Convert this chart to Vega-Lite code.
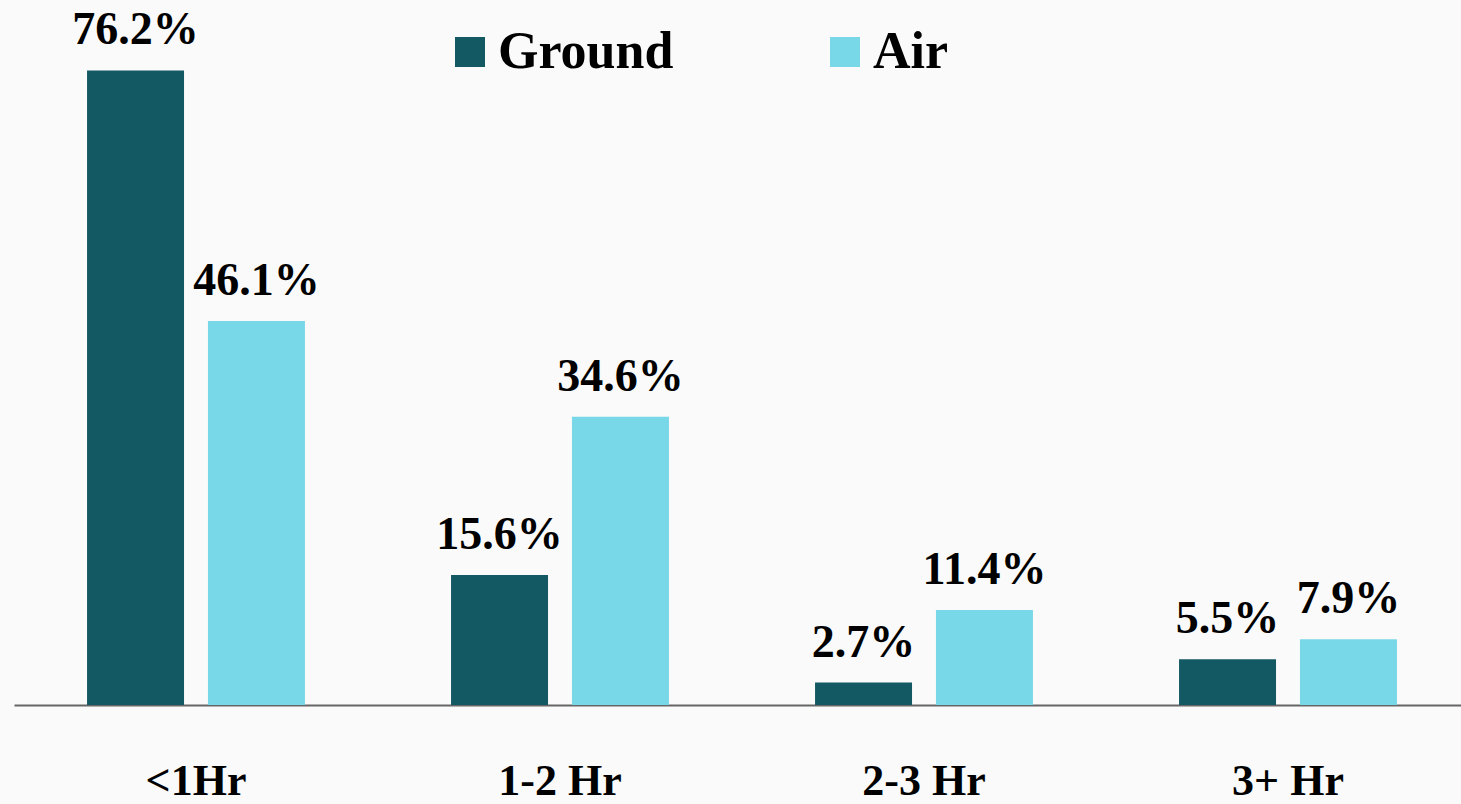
{
  "$schema": "https://vega.github.io/schema/vega-lite/v6.json",
  "width": 1447,
  "height": 705,
  "autosize": {"type": "none"},
  "padding": {"left": 14, "top": 0, "right": 0, "bottom": 99},
  "background": "#fafafa",
  "config": {"view": {"stroke": null}, "font": "Liberation Serif"},
  "data": {
    "values": [
      {"duration": "<1Hr", "mode": "Ground", "value": 76.2, "label": "76.2%"},
      {"duration": "<1Hr", "mode": "Air", "value": 46.1, "label": "46.1%"},
      {"duration": "1-2 Hr", "mode": "Ground", "value": 15.6, "label": "15.6%"},
      {"duration": "1-2 Hr", "mode": "Air", "value": 34.6, "label": "34.6%"},
      {"duration": "2-3 Hr", "mode": "Ground", "value": 2.7, "label": "2.7%"},
      {"duration": "2-3 Hr", "mode": "Air", "value": 11.4, "label": "11.4%"},
      {"duration": "3+ Hr", "mode": "Ground", "value": 5.5, "label": "5.5%"},
      {"duration": "3+ Hr", "mode": "Air", "value": 7.9, "label": "7.9%"}
    ]
  },
  "encoding": {
    "x": {
      "field": "duration",
      "type": "nominal",
      "sort": ["<1Hr", "1-2 Hr", "2-3 Hr", "3+ Hr"],
      "scale": {"paddingInner": 0, "paddingOuter": 0, "range": [0, 1456]},
      "axis": {
        "title": null,
        "labelAngle": 0,
        "labelFont": "Liberation Serif",
        "labelFontSize": 44,
        "labelFontWeight": "bold",
        "labelColor": "#000000",
        "labelBaseline": "alphabetic",
        "labelPadding": 89,
        "ticks": false,
        "domainColor": "#666666",
        "domainWidth": 2,
        "grid": false
      }
    },
    "xOffset": {
      "field": "mode",
      "type": "nominal",
      "sort": ["Ground", "Air"],
      "scale": {"paddingInner": 0.198, "paddingOuter": 0.604}
    },
    "y": {
      "field": "value",
      "type": "quantitative",
      "scale": {"domain": [0, 84.66], "nice": false},
      "axis": null
    }
  },
  "layer": [
    {
      "mark": {"type": "bar"},
      "encoding": {
        "color": {
          "field": "mode",
          "type": "nominal",
          "sort": ["Ground", "Air"],
          "scale": {"domain": ["Ground", "Air"], "range": ["#135963", "#78d8e7"]},
          "legend": {
            "title": null,
            "orient": "none",
            "legendX": 430,
            "legendY": 26,
            "direction": "horizontal",
            "symbolType": "square",
            "symbolSize": 900,
            "symbolStrokeWidth": 0,
            "symbolOpacity": 1,
            "labelFont": "Liberation Serif",
            "labelFontSize": 52,
            "labelFontWeight": "bold",
            "labelColor": "#000000",
            "labelOffset": 2,
            "columnPadding": 145,
            "labelLimit": 400
          }
        }
      }
    },
    {
      "mark": {
        "type": "text",
        "baseline": "alphabetic",
        "dy": -26,
        "fontSize": 46,
        "fontWeight": "bold",
        "font": "Liberation Serif",
        "color": "#000000"
      },
      "encoding": {
        "text": {"field": "label", "type": "nominal"}
      }
    }
  ]
}
